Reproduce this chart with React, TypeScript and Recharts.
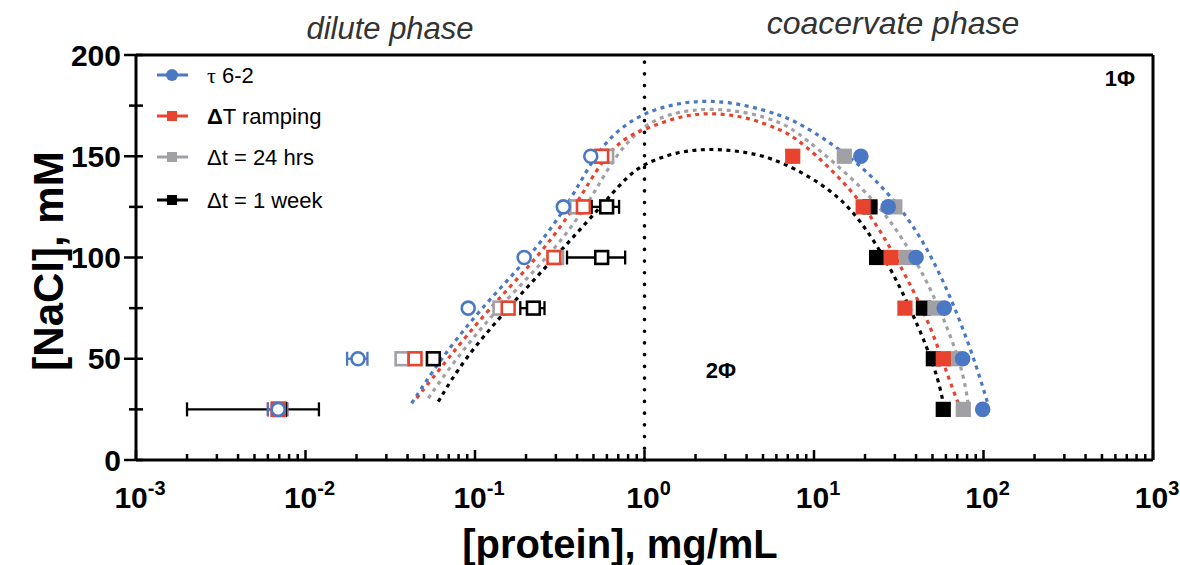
import React from "react";
import {
  ComposedChart,
  Scatter,
  Line,
  XAxis,
  YAxis,
  ErrorBar,
  ReferenceLine,
  Legend,
} from "recharts";

// ---- data -------------------------------------------------------------
const naclLevels = [25, 50, 75, 100, 125, 150];

// dilute phase (open symbols), protein in mg/mL
const tauDilute = [0.0069, 0.0204, 0.0912, 0.195, 0.332, 0.482];
const tauDiluteErr = [0.0009, 0.0028, 0, 0, 0, 0];
const rampDilute = [0.0069, 0.0443, 0.157, 0.292, 0.436, 0.559];
const rampDiluteErr = [0.0009, 0, 0, 0, 0, 0];
const dayDilute = [0.0069, 0.0371, 0.1404, 0.303, 0.398, 0.598];
const weekDilute = [0.007, 0.0568, 0.221, 0.559, 0.598];
const weekDiluteErr = [0.005, 0, 0.036, 0.21, 0.11];

// coacervate phase (filled symbols)
const tauDense = [98.9, 75.3, 58.7, 40.0, 27.4, 18.9];
const rampDense = [null, 57.9, 34.4, 28.5, 19.5, 7.49];
const dayDense = [76.0, 66.4, 51.7, 35.2, 30.0, 15.1];
const weekDense = [57.9, 50.6, 44.2, 23.4, 21.4];

// binodal fits: protein (mg/mL) and NaCl (mM)
const tauFitX = [0.0423, 0.0621, 0.107, 0.206, 0.348, 0.499, 0.686, 1.007, 1.55, 2.43, 4.01, 6.3, 8.27, 15.6, 26.8, 40.4, 55.4, 72.6, 91.2, 106.7];
const tauFitY = [28.0, 49.4, 74.4, 99.3, 124.6, 149.5, 162.9, 171.7, 176.2, 177.8, 175.3, 170.4, 166.3, 151.5, 133.3, 113.6, 92.2, 69.1, 46.1, 27.0];
const rampFitX = [0.0453, 0.0681, 0.12, 0.231, 0.389, 0.571, 0.785, 1.0, 1.55, 2.43, 4.01, 6.3, 8.27, 17.1, 26.8, 38.5, 50.6, 60.7, 71.0];
const rampFitY = [30.5, 49.4, 74.4, 99.3, 124.6, 149.5, 159.7, 163.3, 169.5, 171.7, 169.5, 163.3, 158.0, 133.3, 108.6, 84.0, 62.6, 42.8, 28.0];
const dayFitX = [0.053, 0.0762, 0.134, 0.265, 0.456, 0.655, 1.0, 1.55, 2.43, 4.01, 6.3, 8.27, 20.4, 32.1, 46.3, 63.4, 76.0, 81.2];
const dayFitY = [30.5, 49.4, 74.4, 99.3, 124.6, 149.5, 166.3, 172.0, 173.7, 172.0, 167.0, 161.3, 133.3, 112.0, 88.9, 62.6, 42.8, 28.0];
const weekFitX = [0.0607, 0.0853, 0.154, 0.29, 0.546, 0.785, 1.0, 1.55, 2.43, 4.01, 6.3, 13.0, 19.5, 28.0, 36.6, 46.3, 54.2, 57.7];
const weekFitY = [28.8, 49.4, 74.4, 99.3, 124.6, 139.9, 146.5, 152.2, 153.9, 152.2, 148.1, 133.3, 116.9, 95.5, 75.7, 56.0, 39.5, 28.8];

const seriesNames = ["τ 6-2", "ΔT ramping", "Δt = 24 hrs", "Δt = 1 week"];
const seriesColors = ["#4A78C4", "#E8432E", "#A1A1A5", "#000000"];

const xMajorTicks = [0.001, 0.01, 0.1, 1, 10, 100, 1000];
const xMinorFactors = [2, 3, 4, 5, 6, 7, 8, 9];
const yTicks = [0, 25, 50, 75, 100, 125, 150, 175, 200];

// ---- helpers ----------------------------------------------------------
const toPoints = (xs: (number | null)[], errs?: number[]) =>
  xs
    .map((x, i) =>
      x == null
        ? null
        : { x, y: naclLevels[i], err: errs && errs[i] ? errs[i] : undefined }
    )
    .filter(Boolean) as { x: number; y: number; err?: number }[];

const toCurve = (xs: number[], ys: number[]) => xs.map((x, i) => ({ x, y: ys[i] }));

const xTicks: number[] = [];
xMajorTicks.forEach((d, i) => {
  xTicks.push(d);
  if (i < xMajorTicks.length - 1) xMinorFactors.forEach((f) => xTicks.push(+(d * f).toPrecision(3)));
});

const FONT = "'Liberation Sans', Arial, sans-serif";

const openCircle = (color: string) => (p: any) =>
  <circle cx={p.cx} cy={p.cy} r={6.5} fill="#fff" stroke={color} strokeWidth={2.6} />;
const openSquare = (color: string) => (p: any) =>
  <rect x={p.cx - 6.4} y={p.cy - 6.4} width={12.8} height={12.8} fill="#fff" stroke={color} strokeWidth={2.6} />;
const filledCircle = (color: string) => (p: any) =>
  <circle cx={p.cx} cy={p.cy} r={7.8} fill={color} />;
const filledSquare = (color: string) => (p: any) =>
  <rect x={p.cx - 7.6} y={p.cy - 7.6} width={15.2} height={15.2} fill={color} />;

const XTick = (props: any) => {
  const { x, y, payload } = props;
  const v = payload.value as number;
  const lg = Math.log10(v);
  const exp = Math.round(lg);
  const major = Math.abs(lg - exp) < 1e-6;
  return (
    <g>
      <line x1={x} x2={x} y1={y} y2={y - (major ? 10 : 6)} stroke="#000" strokeWidth={2.5} />
      {major && (
        <text x={x + 4} y={y + 48} textAnchor="middle" fontFamily={FONT} fontWeight="bold" fontSize={30} fill="#000">
          10
          <tspan dy={-13} fontSize={20}>{String(exp)}</tspan>
        </text>
      )}
    </g>
  );
};

const YTick = (props: any) => {
  const { x, y, payload } = props;
  const v = payload.value as number;
  const major = v % 50 === 0;
  return (
    <g>
      <line x1={x - (major ? 12 : 7)} x2={x + 7} y1={y} y2={y} stroke="#000" strokeWidth={2.5} />
      {major && (
        <text x={x - 15} y={y + 10.5} textAnchor="end" fontFamily={FONT} fontWeight="bold" fontSize={30} fill="#000">
          {v}
        </text>
      )}
    </g>
  );
};

const LegendBox = () => {
  const rows = [20, 61, 102, 145];
  return (
    <svg width={240} height={170} style={{ display: "block" }}>
      {seriesNames.map((name, i) => {
        const c = seriesColors[i];
        const y = rows[i];
        return (
          <g key={name}>
            <line x1={17} x2={48} y1={y} y2={y} stroke={c} strokeWidth={3} />
            {i === 0 ? (
              <circle cx={32} cy={y} r={6} fill={c} />
            ) : (
              <rect x={27} y={y - 5} width={10} height={10} fill={c} />
            )}
            <text x={67} y={y + 7.5} fontFamily={FONT} fontSize={22} fill="#000">
              {i === 0 ? (
                <>
                  <tspan fontFamily="'Liberation Serif', serif">τ</tspan>
                  <tspan> 6-2</tspan>
                </>
              ) : i === 1 ? (
                <>
                  <tspan fontWeight="bold">Δ</tspan>
                  <tspan>T ramping</tspan>
                </>
              ) : (
                name
              )}
            </text>
          </g>
        );
      })}
    </svg>
  );
};

export default function App() {
  const dilute = [
    { pts: toPoints(weekDilute, weekDiluteErr), color: seriesColors[3], shape: openSquare },
    { pts: toPoints(dayDilute), color: seriesColors[2], shape: openSquare },
    { pts: toPoints(rampDilute, rampDiluteErr), color: seriesColors[1], shape: openSquare },
    { pts: toPoints(tauDilute, tauDiluteErr), color: seriesColors[0], shape: openCircle },
  ];
  const dense = [
    { pts: toPoints(weekDense), color: seriesColors[3], shape: filledSquare },
    { pts: toPoints(dayDense), color: seriesColors[2], shape: filledSquare },
    { pts: toPoints(rampDense), color: seriesColors[1], shape: filledSquare },
    { pts: toPoints(tauDense), color: seriesColors[0], shape: filledCircle },
  ];
  const fits = [
    { pts: toCurve(weekFitX, weekFitY), color: seriesColors[3] },
    { pts: toCurve(dayFitX, dayFitY), color: seriesColors[2] },
    { pts: toCurve(rampFitX, rampFitY), color: seriesColors[1] },
    { pts: toCurve(tauFitX, tauFitY), color: seriesColors[0] },
  ];

  return (
    <div style={{ position: "absolute", left: 0, top: 0, width: 1180, height: 565, background: "#fff" }}>
      <ComposedChart
        width={1180}
        height={565}
        margin={{ top: 55, right: 27, bottom: 0, left: 0 }}
        style={{ fontFamily: FONT }}
      >
        <XAxis
          dataKey="x"
          type="number"
          scale="log"
          domain={[0.001, 1000]}
          ticks={xTicks}
          interval={0}
          allowDataOverflow
          height={105}
          tickSize={0}
          tickMargin={0}
          tickLine={false}
          tick={<XTick />}
          axisLine={{ stroke: "#000", strokeWidth: 3 }}
        />
        <YAxis
          dataKey="y"
          type="number"
          domain={[0, 200]}
          ticks={yTicks}
          interval={0}
          width={136}
          tickSize={0}
          tickMargin={0}
          tickLine={false}
          tick={<YTick />}
          axisLine={{ stroke: "#000", strokeWidth: 3 }}
        />
        <ReferenceLine y={200} stroke="#000" strokeWidth={3} />
        <ReferenceLine x={1000} stroke="#000" strokeWidth={3} />
        <ReferenceLine x={1} stroke="#000" strokeWidth={3.6} strokeDasharray="0.1 11.6" strokeLinecap="round" />

        {dilute.map((s, i) => (
          <Scatter key={"d" + i} data={s.pts} dataKey="y" shape={s.shape(s.color)} isAnimationActive={false}>
            <ErrorBar dataKey="err" direction="x" width={7} stroke={s.color} strokeWidth={2.3} />
          </Scatter>
        ))}
        {dense.map((s, i) => (
          <Scatter key={"c" + i} data={s.pts} dataKey="y" shape={s.shape(s.color)} isAnimationActive={false} />
        ))}
        {fits.map((s, i) => (
          <Line
            key={"f" + i}
            data={s.pts}
            dataKey="y"
            type="basis"
            stroke={s.color}
            strokeWidth={3.2}
            strokeDasharray="4 4.5"
            dot={false}
            activeDot={false}
            isAnimationActive={false}
          />
        ))}
        <Legend
          layout="vertical"
          align="center"
          verticalAlign="middle"
          wrapperStyle={{ left: 140, top: 55, width: 240, height: 170 }}
          content={() => <LegendBox />}
        />
      </ComposedChart>

      <svg
        width={1180}
        height={565}
        style={{ position: "absolute", left: 0, top: 0, pointerEvents: "none" }}
      >
        <text x={390} y={39} textAnchor="middle" fontFamily={FONT} fontStyle="italic" fontSize={31} fill="#333">
          dilute phase
        </text>
        <text x={893} y={34} textAnchor="middle" fontFamily={FONT} fontStyle="italic" fontSize={32} fill="#333">
          coacervate phase
        </text>
        <text x={1120} y={86} textAnchor="middle" fontFamily={FONT} fontWeight="bold" fontSize={22} fill="#000">
          1Φ
        </text>
        <text x={721} y={378} textAnchor="middle" fontFamily={FONT} fontWeight="bold" fontSize={22} fill="#000">
          2Φ
        </text>
        <text x={620} y={558} textAnchor="middle" fontFamily={FONT} fontWeight="bold" fontSize={40} fill="#000">
          [protein], mg/mL
        </text>
        <text
          x={48}
          y={261}
          textAnchor="middle"
          dominantBaseline="central"
          transform="rotate(-90 48 261)"
          fontFamily={FONT}
          fontWeight="bold"
          fontSize={42}
          fill="#000"
        >
          [NaCl], mM
        </text>
      </svg>
    </div>
  );
}
